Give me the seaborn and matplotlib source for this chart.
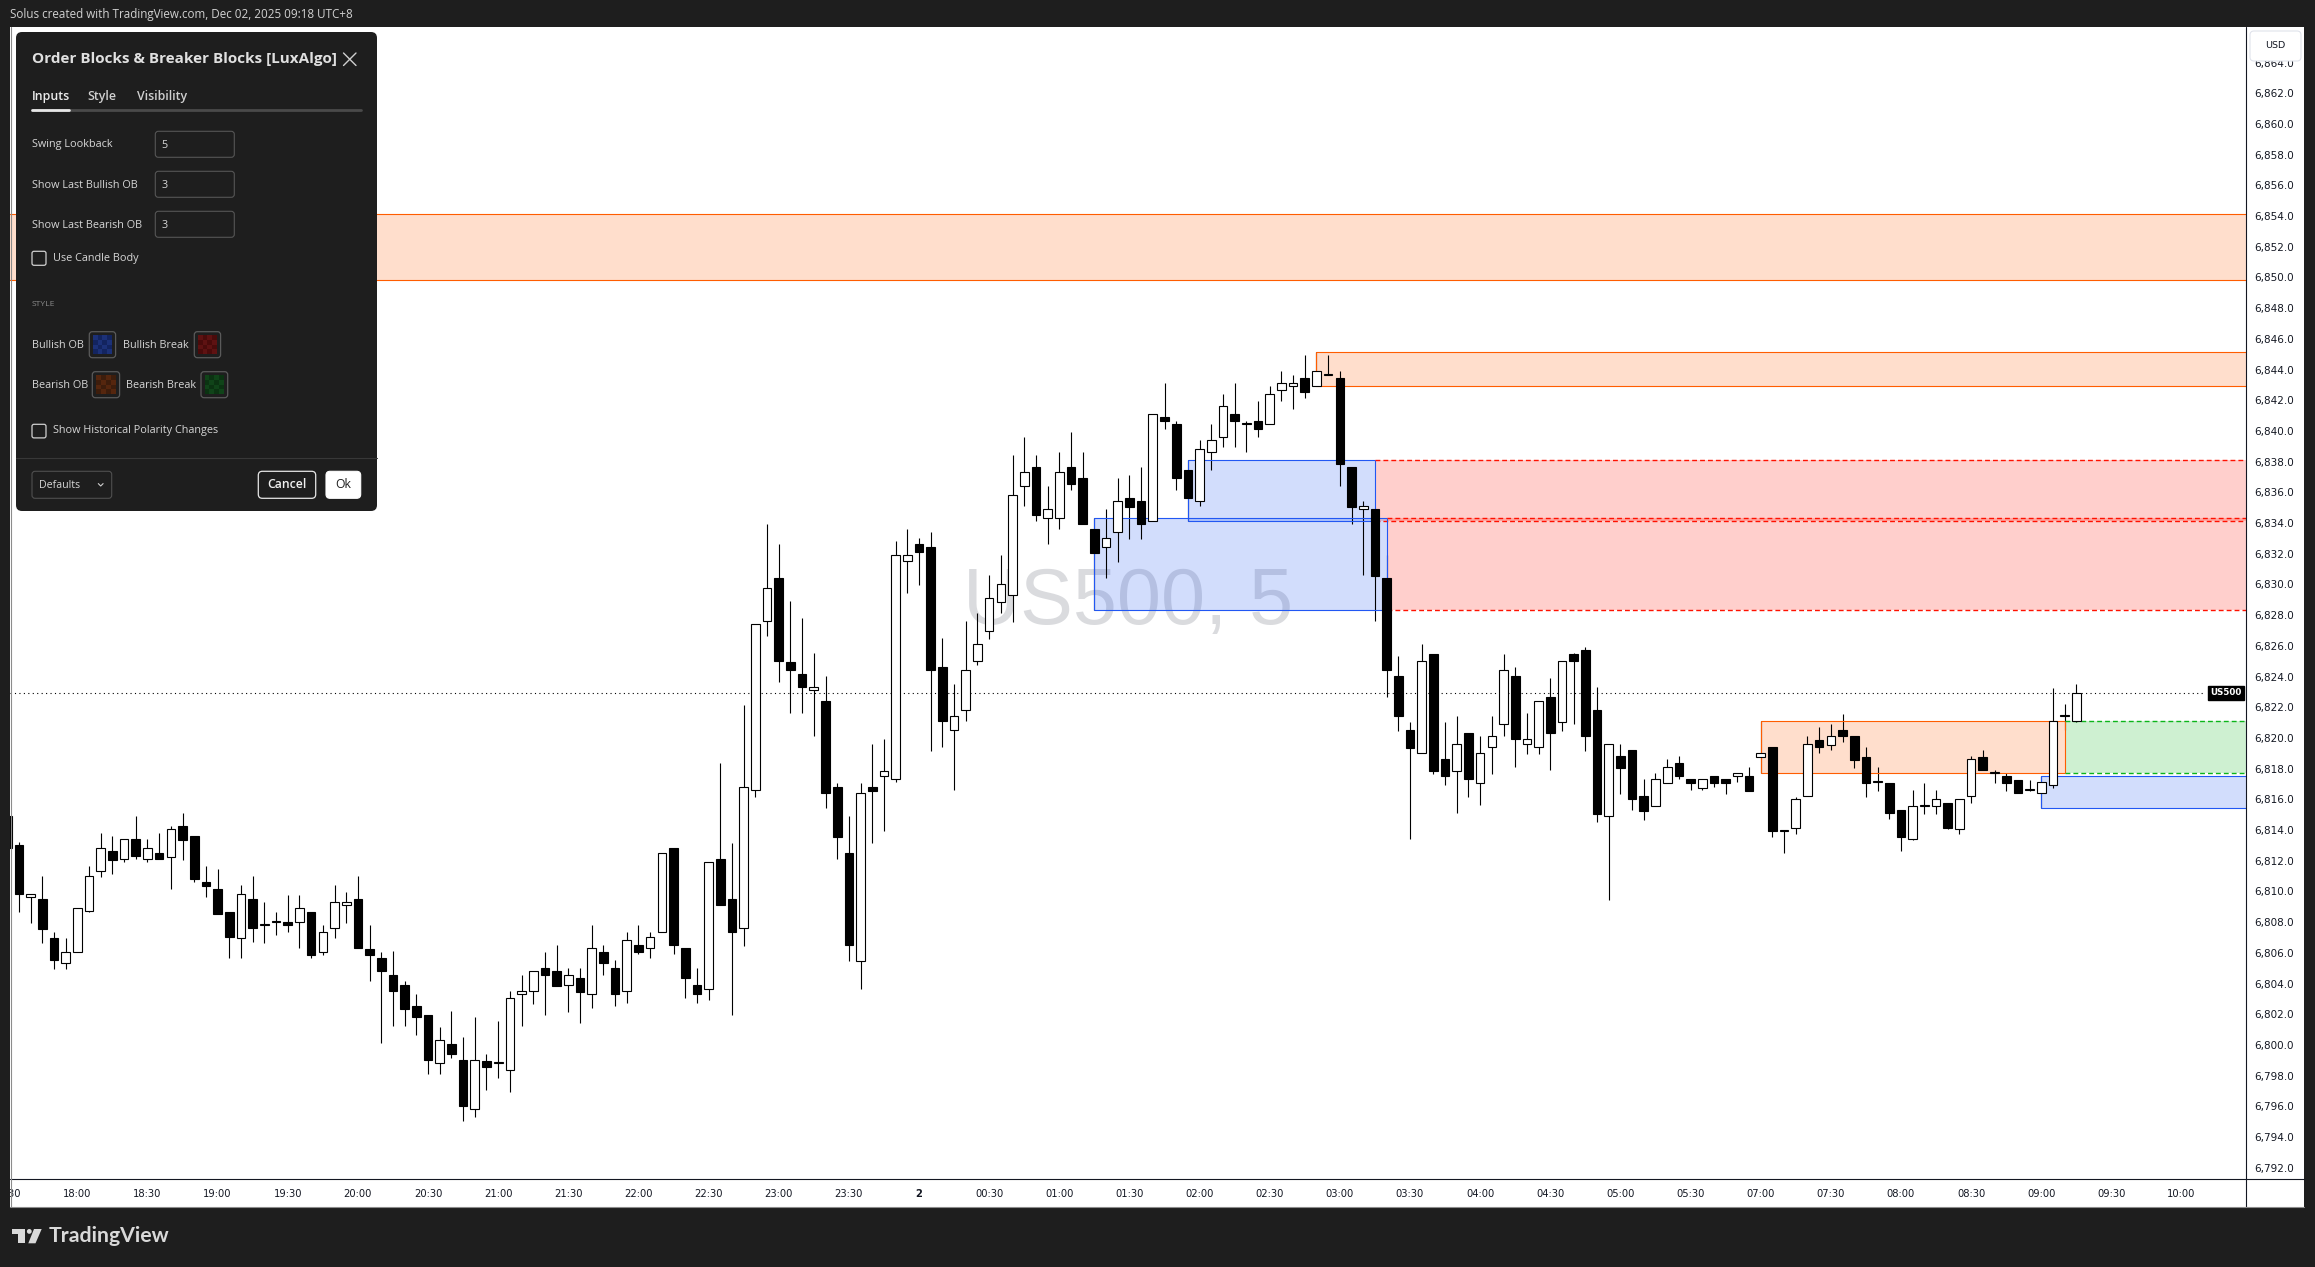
import numpy as np
import pandas as pd
import matplotlib
matplotlib.use("Agg")
import matplotlib.pyplot as plt
import matplotlib.transforms as mtransforms
from matplotlib.patches import Rectangle, FancyBboxPatch, Circle, Polygon
import seaborn as sns

sns.set_theme(style="white")
plt.rcParams['font.family'] = ['DejaVu Sans']

# US500 5 min candles, bar 0 = 17:30 ... bar 177 = 09:15 (no bars 06:00-07:00)
opens = [6815.0, 6813.1, 6809.7, 6809.6, 6807.0, 6805.4, 6806.1, 6808.8, 6811.4, 6812.7,
         6812.2, 6813.5, 6812.2, 6812.6, 6812.3, 6814.3, 6813.7, 6810.7, 6810.2, 6808.7,
         6807.0, 6809.6, 6807.9, 6808.1, 6808.1, 6808.1, 6808.7, 6806.1, 6807.7, 6809.2,
         6809.6, 6806.3, 6805.7, 6804.6, 6804.0, 6802.6, 6802.0, 6798.9, 6800.1, 6799.1,
         6795.9, 6799.0, 6798.9, 6798.4, 6803.4, 6803.6, 6805.1, 6804.9, 6804.0, 6804.4,
         6803.4, 6806.1, 6805.1, 6803.6, 6806.6, 6806.4, 6807.4, 6812.9, 6806.4, 6804.0,
         6803.7, 6812.2, 6809.6, 6807.7, 6816.7, 6827.7, 6830.5, 6825.0, 6824.2, 6823.2,
         6822.5, 6816.9, 6812.6, 6805.5, 6816.9, 6817.6, 6817.4, 6831.6, 6832.7, 6832.5,
         6824.7, 6820.6, 6821.9, 6825.1, 6827.0, 6828.9, 6829.4, 6836.5, 6837.7, 6834.4,
         6834.4, 6837.7, 6837.0, 6833.7, 6832.5, 6833.5, 6835.7, 6835.5, 6834.2, 6841.0,
         6840.5, 6837.5, 6835.5, 6838.7, 6839.7, 6841.2, 6840.5, 6840.7, 6840.5, 6842.7,
         6843.0, 6843.5, 6843.0, 6843.7, 6843.5, 6837.7, 6835.0, 6835.0, 6830.5, 6824.1,
         6820.6, 6819.1, 6825.5, 6818.7, 6817.9, 6820.4, 6817.1, 6819.5, 6821.0, 6824.1,
         6819.7, 6819.5, 6822.7, 6821.1, 6825.5, 6825.8, 6821.9, 6815.0, 6818.9, 6819.3,
         6816.3, 6815.6, 6817.1, 6818.4, 6817.4, 6816.8, 6817.6, 6817.4, 6817.6, 6817.6,
         6818.8, 6819.5, 6814.0, 6814.2, 6816.3, 6819.9, 6819.6, 6820.6, 6820.2, 6818.8,
         6817.2, 6817.1, 6815.4, 6813.5, 6815.6, 6815.6, 6815.8, 6814.1, 6816.3, 6818.8,
         6817.8, 6817.6, 6817.3, 6816.7, 6816.5, 6817.0, 6821.5, 6821.2]
highs = [6815.3, 6813.3, 6809.9, 6811.1, 6807.4, 6807.0, 6809.0, 6811.7, 6813.9, 6813.7,
         6813.5, 6815.0, 6813.5, 6813.9, 6814.3, 6815.2, 6813.7, 6811.7, 6811.5, 6808.7,
         6810.5, 6811.1, 6809.4, 6808.7, 6809.8, 6809.8, 6808.7, 6807.9, 6810.5, 6810.0,
         6811.1, 6807.9, 6806.1, 6806.2, 6804.2, 6803.4, 6802.0, 6801.2, 6802.3, 6800.6,
         6801.9, 6799.5, 6801.6, 6803.6, 6804.6, 6804.9, 6806.1, 6806.6, 6805.1, 6805.1,
         6807.9, 6806.6, 6805.6, 6807.4, 6807.9, 6807.4, 6812.6, 6812.9, 6806.4, 6805.1,
         6812.0, 6818.4, 6813.2, 6822.2, 6827.5, 6834.0, 6832.7, 6829.0, 6827.9, 6825.6,
         6824.1, 6817.1, 6815.0, 6817.1, 6819.7, 6820.0, 6832.9, 6833.7, 6833.1, 6833.5,
         6826.6, 6823.6, 6827.7, 6828.2, 6830.7, 6832.0, 6838.5, 6839.7, 6838.5, 6836.5,
         6838.7, 6840.0, 6838.7, 6834.4, 6835.0, 6837.0, 6837.2, 6837.7, 6841.2, 6843.2,
         6840.7, 6838.2, 6839.5, 6840.5, 6842.5, 6843.2, 6840.7, 6842.0, 6843.0, 6844.0,
         6843.7, 6845.0, 6845.2, 6845.0, 6844.0, 6837.7, 6835.5, 6835.0, 6832.0, 6825.4,
         6821.1, 6826.2, 6825.5, 6821.1, 6821.5, 6820.4, 6820.2, 6821.5, 6825.5, 6824.7,
         6821.7, 6822.5, 6824.0, 6825.1, 6825.6, 6826.0, 6823.4, 6819.7, 6819.7, 6819.3,
         6817.4, 6817.8, 6818.7, 6818.9, 6817.4, 6817.4, 6817.6, 6817.4, 6817.8, 6818.2,
         6821.2, 6819.5, 6814.0, 6816.2, 6820.2, 6820.8, 6821.0, 6821.6, 6820.2, 6819.5,
         6818.2, 6817.1, 6815.4, 6816.7, 6817.1, 6816.7, 6815.8, 6816.1, 6818.9, 6819.3,
         6818.0, 6817.8, 6817.3, 6817.3, 6817.6, 6823.3, 6822.3, 6823.6]
lows = [6812.5, 6808.7, 6808.0, 6806.7, 6805.0, 6805.0, 6806.1, 6808.7, 6811.0, 6811.2,
        6812.0, 6812.2, 6812.0, 6812.2, 6810.2, 6812.1, 6810.7, 6809.7, 6808.6, 6805.7,
        6805.7, 6806.8, 6806.7, 6807.2, 6807.4, 6806.4, 6805.7, 6805.9, 6807.0, 6808.0,
        6806.4, 6804.2, 6800.2, 6801.3, 6801.3, 6800.7, 6798.2, 6798.2, 6799.2, 6795.1,
        6795.4, 6797.1, 6797.9, 6797.0, 6801.3, 6802.7, 6802.0, 6803.9, 6802.2, 6801.5,
        6802.5, 6804.6, 6802.6, 6802.8, 6806.0, 6805.7, 6807.4, 6806.0, 6803.1, 6802.8,
        6803.0, 6809.2, 6802.0, 6806.5, 6816.2, 6826.7, 6823.7, 6821.7, 6821.7, 6820.2,
        6815.5, 6812.2, 6805.5, 6803.7, 6813.2, 6814.0, 6817.2, 6829.5, 6830.0, 6819.2,
        6819.5, 6816.7, 6821.2, 6824.8, 6826.5, 6828.2, 6827.6, 6835.2, 6834.2, 6832.7,
        6833.7, 6836.2, 6834.0, 6828.4, 6830.5, 6831.5, 6833.0, 6833.0, 6834.2, 6840.2,
        6836.2, 6834.2, 6835.2, 6837.5, 6839.0, 6839.0, 6838.7, 6839.7, 6840.5, 6842.0,
        6841.5, 6842.2, 6843.0, 6843.7, 6836.5, 6834.0, 6830.7, 6827.7, 6822.7, 6820.5,
        6813.5, 6819.1, 6817.7, 6817.0, 6815.2, 6816.2, 6815.7, 6817.7, 6820.2, 6818.2,
        6819.0, 6819.0, 6818.0, 6820.5, 6821.0, 6819.2, 6814.6, 6809.5, 6816.4, 6815.4,
        6814.7, 6815.6, 6817.1, 6817.4, 6816.7, 6816.7, 6816.9, 6816.4, 6817.2, 6816.6,
        6817.8, 6813.6, 6812.6, 6813.8, 6816.3, 6819.1, 6819.3, 6819.8, 6818.1, 6816.2,
        6816.6, 6814.8, 6812.7, 6813.4, 6815.1, 6815.1, 6814.1, 6813.8, 6815.8, 6818.0,
        6817.1, 6816.6, 6816.5, 6816.6, 6815.5, 6816.8, 6820.6, 6821.1]
closes = [6812.9, 6809.9, 6809.9, 6807.6, 6805.6, 6806.1, 6809.0, 6811.1, 6812.9, 6812.1,
          6813.5, 6812.4, 6812.9, 6812.2, 6814.1, 6813.4, 6810.9, 6810.4, 6808.6, 6807.1,
          6809.9, 6807.7, 6807.9, 6808.1, 6807.9, 6809.0, 6805.9, 6807.4, 6809.4, 6809.4,
          6806.4, 6805.9, 6804.9, 6803.6, 6802.4, 6801.9, 6799.1, 6800.4, 6799.5, 6796.1,
          6799.1, 6798.6, 6798.9, 6803.1, 6803.6, 6804.9, 6804.6, 6803.9, 6804.6, 6803.5,
          6806.4, 6805.4, 6803.4, 6806.9, 6806.1, 6807.1, 6812.6, 6806.6, 6804.4, 6803.4,
          6812.0, 6809.2, 6807.4, 6816.9, 6827.5, 6829.8, 6825.1, 6824.5, 6823.4, 6823.4,
          6816.5, 6813.6, 6806.6, 6816.5, 6816.6, 6817.9, 6832.0, 6832.0, 6832.2, 6824.5,
          6821.2, 6821.5, 6824.5, 6826.2, 6829.2, 6830.1, 6835.9, 6837.4, 6834.6, 6835.0,
          6837.4, 6836.6, 6834.0, 6832.1, 6833.1, 6835.5, 6835.1, 6834.0, 6841.2, 6840.7,
          6837.0, 6835.7, 6838.9, 6839.5, 6841.7, 6840.7, 6840.5, 6840.2, 6842.5, 6843.2,
          6843.2, 6842.6, 6844.0, 6843.7, 6837.9, 6835.1, 6835.2, 6830.6, 6824.5, 6821.5,
          6819.4, 6825.1, 6817.9, 6817.6, 6819.7, 6817.4, 6819.1, 6820.2, 6824.5, 6820.0,
          6820.0, 6822.5, 6820.4, 6825.1, 6825.1, 6820.2, 6815.1, 6819.7, 6818.1, 6816.1,
          6815.3, 6817.4, 6818.2, 6817.6, 6817.1, 6817.4, 6817.1, 6817.1, 6817.8, 6816.6,
          6819.1, 6814.0, 6814.0, 6816.1, 6819.7, 6819.5, 6820.2, 6820.2, 6818.6, 6817.1,
          6817.2, 6815.2, 6813.6, 6815.6, 6815.6, 6816.1, 6814.2, 6816.1, 6818.7, 6818.0,
          6817.8, 6817.1, 6816.5, 6816.7, 6817.2, 6821.2, 6821.5, 6823.0]

time_ticks = [0, 6, 12, 18, 24, 30, 36, 42, 48, 54, 60, 66, 72, 78, 84, 90, 96, 102,
              108, 114, 120, 126, 132, 138, 144, 150, 156, 162, 168, 174, 180, 186]
time_labels = ["17:30", "18:00", "18:30", "19:00", "19:30", "20:00", "20:30", "21:00",
               "21:30", "22:00", "22:30", "23:00", "23:30", "2", "00:30", "01:00",
               "01:30", "02:00", "02:30", "03:00", "03:30", "04:00", "04:30", "05:00",
               "05:30", "07:00", "07:30", "08:00", "08:30", "09:00", "09:30", "10:00"]
price_ticks = list(range(6792, 6866, 2))

# order blocks / breakers: start bar, end bar (None = still running), top, bottom, kind
zone_start = [-30, 112, 101, 117, 93, 118, 150, 176, 174]
zone_end = [None, None, 117, None, 118, None, 176, None, None]
zone_top = [6854.2, 6845.2, 6838.2, 6838.2, 6834.4, 6834.4, 6821.2, 6821.2, 6817.6]
zone_bottom = [6849.9, 6843.0, 6834.2, 6834.2, 6828.4, 6828.4, 6817.8, 6817.8, 6815.5]
zone_kind = ["bear_ob", "bear_ob", "bull_ob", "bull_break", "bull_ob", "bull_break",
             "bear_ob", "bear_break", "bull_ob"]

df = pd.DataFrame({"open": opens, "high": highs, "low": lows, "close": closes})
df["bar"] = np.arange(len(df))
df["up"] = df["close"] >= df["open"]
df["body_lo"] = df[["open", "close"]].min(axis=1)
df["body_h"] = (df["close"] - df["open"]).abs().clip(lower=0.07)

W, H = 2315, 1267
dark = "#1e1e1e"
fig = plt.figure(figsize=(W / 100, H / 100), dpi=100, facecolor=dark)


def box(x0, y0, x1, y1):
    return [x0 / W, 1 - y1 / H, (x1 - x0) / W, (y1 - y0) / H]


fig.add_artist(Rectangle((10 / W, 1 - 1207 / H), 2294 / W, 1180 / H,
                         transform=fig.transFigure, fc="white", ec="none", zorder=-5))

ax = fig.add_axes(box(10, 27, 2246, 1179))
ax_t = fig.add_axes(box(10, 1179, 2246, 1207), sharex=ax)
ax_p = fig.add_axes(box(2246, 27, 2304, 1179), sharey=ax)

bar0_px, bar_px = 7.2, 11.69
x_lo, x_hi = (10 - bar0_px) / bar_px, (2246 - bar0_px) / bar_px
ax.set_xlim(x_lo, x_hi)
ax.set_ylim(6791.33, 6866.38)

for a in (ax, ax_t, ax_p):
    a.set_facecolor("white")
    a.set_xticks([])
    a.set_yticks([])
    for s in a.spines.values():
        s.set_visible(False)

# watermark
ax.text(0.5, 0.5, "US500, 5", transform=ax.transAxes, ha="center", va="center",
        fontsize=57, color="#9598a1", alpha=0.35, family="Liberation Sans", zorder=0.5)

styles = {
    "bear_ob": ("#ff5d00", "-"),
    "bull_ob": ("#2157f3", "-"),
    "bull_break": ("#ff1100", (0, (3.5, 2.2))),
    "bear_break": ("#0cb51a", (0, (3.5, 2.2))),
}
for s, e, t, b, k in zip(zone_start, zone_end, zone_top, zone_bottom, zone_kind):
    col, ls = styles[k]
    end = x_hi + 1 if e is None else e
    ax.add_patch(Rectangle((s, b), end - s, t - b, fc=col, alpha=0.2, ec="none", zorder=1))
    ax.hlines([t, b], s, end, colors=col, linestyles=ls, lw=1.0 if "break" in k else 0.8,
              zorder=3.5)
    if k.endswith("ob"):
        ax.vlines([s] + ([e] if e is not None else []), b, t, colors=col, lw=0.8, zorder=3.5)

# candles
ax.vlines(df["bar"], df["low"], df["high"], color="black", lw=0.8, zorder=3)
for up, face in [(True, "white"), (False, "black")]:
    d = df[df["up"] == up]
    ax.bar(d["bar"], d["body_h"], bottom=d["body_lo"], width=0.74, color=face,
           edgecolor="black", linewidth=0.8, zorder=4)

last = df["close"].iloc[-1]
ax.axhline(last, xmin=0, xmax=0.981, color="black", lw=0.8, ls=(0, (1, 3)), zorder=2)
ax.text(0.998, last, "US500", transform=mtransforms.blended_transform_factory(ax.transAxes, ax.transData),
        ha="right", va="center", fontsize=6.3, fontweight="bold", color="white", zorder=6,
        bbox=dict(boxstyle="square,pad=0.25", fc="black", ec="black"))

# time axis
tt = mtransforms.blended_transform_factory(ax_t.transData, ax_t.transAxes)
for i, lab in zip(time_ticks, time_labels):
    ax_t.text(i, 0.45, lab, transform=tt, ha="center", va="center", fontsize=7.2,
              color="#131722", fontweight="bold" if lab == "2" else "normal", clip_on=True)

# price axis
pt = mtransforms.blended_transform_factory(ax_p.transAxes, ax_p.transData)
for p in price_ticks:
    ax_p.text(0.14, p, f"{p:,.1f}", transform=pt, ha="left", va="center", fontsize=7.5,
              color="#131722", clip_on=True)

# ---- overlay: frame, dialog, branding (pixel coords, y down)
ax_o = fig.add_axes([0, 0, 1, 1], zorder=10)
ax_o.set_xlim(0, W)
ax_o.set_ylim(H, 0)
ax_o.axis("off")
ax_o.patch.set_alpha(0)

for x, y, w, h in [(0, 0, W, 27), (0, 0, 10, H), (2304, 0, W - 2304, H), (0, 1207, W, H - 1207)]:
    ax_o.add_patch(Rectangle((x, y), w, h, fc=dark, ec="none", zorder=1))
ax_o.plot([2246, 2246], [27, 1207], color="#131722", lw=0.8, zorder=2)
ax_o.plot([10, 2304], [1179, 1179], color="#131722", lw=0.8, zorder=2)
ax_o.plot([10.5, 10.5], [27, 1207], color="#8c8c8c", lw=0.8, zorder=2)
ax_o.plot([10, 2304], [1206.5, 1206.5], color="#8c8c8c", lw=0.8, zorder=2)

ax_o.add_patch(FancyBboxPatch((2250, 31), 51, 30, boxstyle="round,pad=0,rounding_size=4",
                              fc="white", ec="#e0e3eb", lw=0.8, zorder=3))
ax_o.text(2275, 45, "USD", ha="center", va="center", fontsize=6.8, color="#131722", zorder=4)

sans = ["Open Sans", "DejaVu Sans"]
ax_o.text(10, 14.5, "Solus created with TradingView.com, Dec 02, 2025 09:18 UTC+8", ha="left",
          va="center", fontsize=8.4, color="#d1d1d1", family=sans, zorder=4)

# TradingView logo
logo = "#d9d9d9"
ax_o.add_patch(Polygon([(11.7, 1229), (25, 1229), (25, 1243.3), (18.3, 1243.3), (18.3, 1234),
                        (11.7, 1234)], closed=True, fc=logo, ec="none", zorder=4))
ax_o.add_patch(Circle((29.3, 1231.4), 2.4, fc=logo, ec="none", zorder=4))
ax_o.add_patch(Polygon([(34, 1229), (41.7, 1229), (35.5, 1243.3), (28.3, 1243.3)], closed=True,
                       fc=logo, ec="none", zorder=4))
ax_o.text(48.5, 1236.5, "TradingView", ha="left", va="center", fontsize=15.3, fontweight="bold",
          color=logo, family=["Lato", "DejaVu Sans"], zorder=4)


def rbox(x, y, w, h, r=3, fc="none", ec="none", lw=0.75, z=11):
    ax_o.add_patch(FancyBboxPatch((x, y), w, h, boxstyle=f"round,pad=0,rounding_size={r}",
                                  fc=fc, ec=ec, lw=lw, zorder=z))


def label(x, y, s, size=7.8, color="#d6d6d6", weight="normal", ha="left"):
    ax_o.text(x, y, s, fontsize=size, color=color, fontweight=weight, ha=ha, va="center",
              family=sans, zorder=13)


def swatch(x, y, w, h, c1, c2):
    rbox(x, y, w, h, r=3, ec="#5a5a5a", lw=0.9)
    ix, iy, iw, ih = x + 3.5, y + 3.5, w - 7, h - 7
    for a in range(4):
        for b in range(4):
            ax_o.add_patch(Rectangle((ix + a * iw / 4, iy + b * ih / 4), iw / 4, ih / 4,
                                     fc=c1 if (a + b) % 2 else c2, ec="none", zorder=12))


rbox(16, 32, 361, 479, r=6, fc=dark, z=10)
label(32, 58.7, "Order Blocks & Breaker Blocks [LuxAlgo]", size=11, color="#e0e0e0", weight="bold")
ax_o.plot([343.5, 356], [53, 65.5], color="#cfcfcf", lw=1.0, zorder=12)
ax_o.plot([343.5, 356], [65.5, 53], color="#cfcfcf", lw=1.0, zorder=12)

label(32, 96.5, "Inputs", size=8.9, color="#ececec", weight="semibold")
label(87.7, 96.5, "Style", size=8.9, color="#cfcfcf", weight="semibold")
label(136.7, 96.5, "Visibility", size=8.9, color="#cfcfcf", weight="semibold")
ax_o.plot([32, 361], [110, 110], color="#4a4a4a", lw=2.0, solid_capstyle="round", zorder=11)
ax_o.plot([32, 68.7], [110, 110], color="#e6e6e6", lw=2.0, solid_capstyle="round", zorder=12)

for yy, name, val in [(145, "Swing Lookback", "5"), (185, "Show Last Bullish OB", "3"),
                      (225, "Show Last Bearish OB", "3")]:
    label(32, yy, name)
    rbox(155.3, yy - 13.7, 79, 26, r=3, ec="#555555", lw=0.8)
    label(161.7, yy, val)

rbox(32, 251.3, 14, 14, r=2, ec="#d0d0d0", lw=0.9)
label(52.7, 258.3, "Use Candle Body")
label(32, 305, "STYLE", size=6.1, color="#8a8a8a")

label(32, 345, "Bullish OB")
swatch(89.3, 331.7, 26.3, 26, "#13245f", "#1c3178")
label(122.7, 345, "Bullish Break")
swatch(194.3, 331.7, 26.3, 26, "#4a0b0b", "#5e1212")
label(32, 385, "Bearish OB")
swatch(92.3, 371.7, 27.3, 26, "#3d1d0c", "#55260e")
label(126.3, 385, "Bearish Break")
swatch(201, 371.7, 26.7, 26, "#0b3312", "#104419")

rbox(32, 424.3, 14, 13.6, r=2, ec="#d0d0d0", lw=0.9)
label(52.7, 431, "Show Historical Polarity Changes")

ax_o.plot([16, 377], [458.3, 458.3], color="#383838", lw=0.8, zorder=11)
rbox(32, 471.3, 79.7, 27, r=3, ec="#4f4f4f", lw=0.8)
label(39.3, 485, "Defaults", size=7.7)
ax_o.plot([98.3, 100.7, 103.1], [483.6, 486, 483.6], color="#cfcfcf", lw=0.8, zorder=12)
rbox(258.3, 471.3, 57.4, 27, r=4, ec="#e6e6e6", lw=0.9)
label(287, 484.6, "Cancel", size=8.8, color="#f0f0f0", weight="semibold", ha="center")
rbox(326, 471.3, 34.7, 27, r=4, fc="white", ec="white", lw=0.8)
label(343.3, 484.6, "Ok", size=8.8, color="#1e1e1e", weight="normal", ha="center")

fig.savefig("out.png", dpi=100, facecolor=fig.get_facecolor())
